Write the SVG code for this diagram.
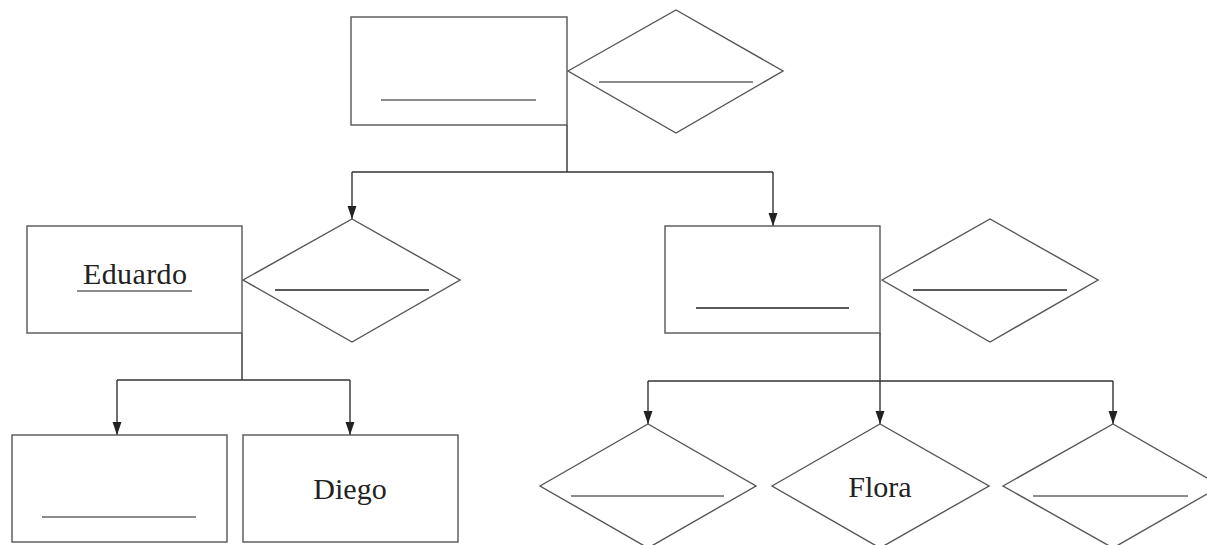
<svg xmlns="http://www.w3.org/2000/svg" width="1207" height="545" viewBox="0 0 1207 545">
<defs>
<marker id="arr" markerWidth="13" markerHeight="10" refX="13" refY="5" orient="auto" markerUnits="userSpaceOnUse" viewBox="0 0 13 10">
<path d="M0,0.5 L13,5 L0,9.5 Z" fill="#222"/>
</marker>
<style>
.shape{fill:#fff;stroke:#555;stroke-width:1.4}
.blank{stroke:#666;stroke-width:1.5}
.dark{stroke:#222;stroke-width:1.5}
.conn{fill:none;stroke:#333;stroke-width:1.4}
.lbl{font-family:"Liberation Serif","Times New Roman",serif;font-size:30px;fill:#222;text-anchor:middle}
</style>
</defs>
<rect width="1207" height="545" fill="#fff"/>
<g id="connectors">
<path class="conn" d="M567,125 V172 M352,172 H773"/>
<path class="conn" d="M352,172 V219" marker-end="url(#arr)"/>
<path class="conn" d="M773,172 V226" marker-end="url(#arr)"/>
<path class="conn" d="M242,333 V380 M117,380 H350"/>
<path class="conn" d="M117,380 V435" marker-end="url(#arr)"/>
<path class="conn" d="M350,380 V435" marker-end="url(#arr)"/>
<path class="conn" d="M880,333 V381 M648,381 H1113"/>
<path class="conn" d="M648,381 V424" marker-end="url(#arr)"/>
<path class="conn" d="M880,381 V424" marker-end="url(#arr)"/>
<path class="conn" d="M1113,381 V424" marker-end="url(#arr)"/>
</g>
<g id="top-rect">
<rect class="shape" x="351" y="17" width="216" height="108"/>
<line class="blank" x1="381" y1="100" x2="536" y2="100"/>
</g>
<g id="top-diamond">
<polygon class="shape" points="568,71 676,10 783,71 676,133"/>
<line class="blank" x1="599" y1="82" x2="753" y2="82"/>
</g>
<g id="eduardo">
<rect class="shape" x="27" y="226" width="215" height="107"/>
<text class="lbl" x="135" y="284" textLength="104">Eduardo</text>
<line class="blank" x1="77" y1="291" x2="192" y2="291"/>
</g>
<g id="eduardo-diamond">
<polygon class="shape" points="243,280 352,219 460,280 352,342"/>
<line class="dark" x1="275" y1="290" x2="429" y2="290"/>
</g>
<g id="right-rect">
<rect class="shape" x="665" y="226" width="215" height="107"/>
<line class="dark" x1="696" y1="308" x2="849" y2="308"/>
</g>
<g id="right-diamond">
<polygon class="shape" points="882,280 990,219 1098,280 990,342"/>
<line class="dark" x1="913" y1="290" x2="1067" y2="290"/>
</g>
<g id="bottom-left-rect">
<rect class="shape" x="12" y="435" width="215" height="107"/>
<line class="blank" x1="42" y1="517" x2="196" y2="517"/>
</g>
<g id="diego">
<rect class="shape" x="243" y="435" width="215" height="107"/>
<text class="lbl" x="350" y="499">Diego</text>
</g>
<g id="diamond-left">
<polygon class="shape" points="540,486 648,424 756,486 648,548"/>
<line class="blank" x1="571" y1="496" x2="724" y2="496"/>
</g>
<g id="flora">
<polygon class="shape" points="772,486 880,424 989,486 880,548"/>
<text class="lbl" x="880" y="497">Flora</text>
</g>
<g id="diamond-right">
<polygon class="shape" points="1003,486 1113,424 1221,486 1113,548"/>
<line class="blank" x1="1033" y1="496" x2="1188" y2="496"/>
</g>
</svg>
